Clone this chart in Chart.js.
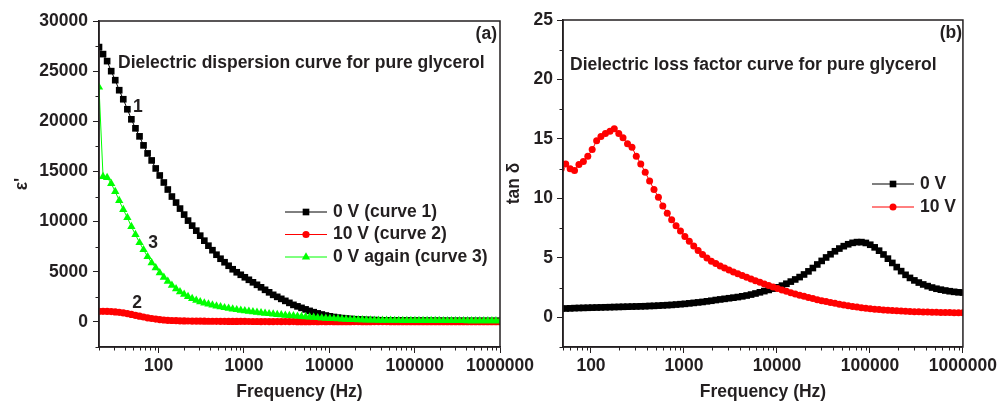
<!DOCTYPE html>
<html>
<head>
<meta charset="utf-8">
<title>Dielectric dispersion and loss of pure glycerol</title>
<script src="https://cdn.jsdelivr.net/npm/chart.js@4.4.1/dist/chart.umd.min.js"></script>
<style>
  html, body { margin: 0; padding: 0; background: #fff; }
  #wrap { position: relative; width: 1000px; height: 407px; overflow: hidden; }
  .panel { position: absolute; top: 0; height: 407px; }
  #left { left: 0; width: 545px; }
  #right { left: 500px; width: 500px; }
</style>
</head>
<body>
<div id="wrap">
  <div class="panel" id="right"><canvas id="loss-chart"></canvas></div>
  <div class="panel" id="left"><canvas id="dispersion-chart"></canvas></div>
</div>
<script>
// sweep frequencies (Hz), 100 log-spaced points from 20 Hz to 1 MHz
const freq = [
  20, 22.3, 24.9, 27.8, 31.0, 34.5, 38.5, 43.0, 47.9, 53.5,
  59.7, 66.5, 74.2, 82.8, 92.4, 103, 115, 128, 143, 160,
  178, 199, 221, 247, 276, 307, 343, 383, 427, 476,
  531, 592, 661, 737, 822, 917, 1023, 1141, 1273, 1420,
  1584, 1766, 1970, 2198, 2452, 2735, 3051, 3403, 3796, 4234,
  4723, 5269, 5877, 6556, 7313, 8158, 9100, 10151, 11323, 12631,
  14089, 15717, 17532, 19556, 21815, 24334, 27144, 30279, 33776, 37676,
  42028, 46882, 52296, 58335, 65073, 72587, 80969, 90322, 100750, 112390,
  125360, 139840, 155990, 174010, 194100, 216520, 241530, 269420, 300540, 335240,
  373970, 417150, 465320, 519060, 579000, 645870, 720470, 803670, 896480, 1000000
];

// dielectric constant eps'
const eps0V = [
  27400, 26700, 26000, 25000, 24100, 23100, 22200, 21200, 20200, 19300,
  18500, 17600, 16800, 16100, 15300, 14600, 13900, 13200, 12500, 11900,
  11300, 10700, 10100, 9600, 9100, 8600, 8100, 7600, 7150, 6700,
  6300, 5950, 5600, 5250, 4950, 4700, 4450, 4200, 3950, 3700,
  3450, 3200, 2950, 2700, 2500, 2300, 2100, 1900, 1700, 1550,
  1400, 1250, 1100, 970, 850, 740, 640, 560, 490, 430,
  380, 340, 300, 270, 245, 225, 205, 190, 180, 170,
  160, 155, 150, 145, 140, 135, 130, 128, 126, 124,
  122, 120, 118, 116, 114, 112, 110, 109, 108, 107,
  106, 105, 104, 103, 102, 101, 100, 100, 99, 98
];
const eps10V = [
  1050, 1060, 1050, 1030, 1000, 960, 900, 830, 750, 660,
  570, 490, 410, 340, 280, 230, 190, 160, 140, 120,
  110, 100, 92, 86, 80, 76, 72, 68, 65, 62,
  59, 56, 54, 52, 50, 48, 46, 44, 42, 40,
  38, 37, 36, 35, 34, 33, 32, 31, 30, 29,
  28, 27, 26, 25, 24, 23, 22, 21, 20, 20,
  20, 19, 19, 18, 18, 17, 17, 17, 16, 16,
  16, 16, 15, 15, 15, 15, 15, 15, 15, 15,
  15, 15, 15, 15, 15, 15, 15, 15, 15, 15,
  15, 15, 15, 15, 15, 15, 15, 15, 15, 15
];
const eps0Vagain = [
  23400, 14500, 14400, 13800, 13000, 12100, 11200, 10400, 9500, 8700,
  7900, 7200, 6500, 5900, 5400, 4900, 4450, 4050, 3650, 3300,
  3000, 2750, 2520, 2320, 2150, 2000, 1880, 1770, 1670, 1580,
  1500, 1420, 1350, 1280, 1220, 1160, 1100, 1050, 1000, 950,
  900, 860, 820, 780, 740, 700, 660, 630, 600, 570,
  540, 510, 480, 450, 420, 390, 360, 340, 320, 300,
  280, 260, 240, 225, 210, 200, 190, 180, 170, 165,
  160, 156, 152, 148, 145, 142, 139, 136, 134, 132,
  130, 128, 127, 126, 125, 124, 123, 122, 121, 120,
  120, 119, 119, 118, 118, 117, 117, 116, 116, 115
];

// loss factor tan delta, measured from the 9th sweep point (47.9 Hz) on
const lossStart = 8;
const tan0V = [
  0.72, 0.74, 0.75, 0.77, 0.78, 0.79, 0.80, 0.81, 0.82, 0.83,
  0.84, 0.85, 0.86, 0.87, 0.88, 0.89, 0.90, 0.91, 0.92, 0.93,
  0.95, 0.96, 0.98, 1.00, 1.02, 1.04, 1.07, 1.10, 1.13, 1.17,
  1.21, 1.25, 1.29, 1.34, 1.39, 1.45, 1.50, 1.55, 1.60, 1.65,
  1.70, 1.76, 1.83, 1.91, 2.00, 2.10, 2.20, 2.30, 2.41, 2.52,
  2.66, 2.82, 3.00, 3.18, 3.38, 3.60, 3.86, 4.14, 4.44, 4.74,
  5.03, 5.30, 5.55, 5.78, 5.98, 6.14, 6.26, 6.32, 6.32, 6.25,
  6.10, 5.88, 5.60, 5.28, 4.93, 4.57, 4.22, 3.88, 3.57, 3.31,
  3.10, 2.92, 2.76, 2.62, 2.50, 2.40, 2.32, 2.25, 2.19, 2.14,
  2.10, 2.08
];
const tan10V = [
  12.5, 12.9, 12.5, 12.35, 12.85, 13.1, 13.55, 14.1, 14.85, 15.2,
  15.45, 15.65, 15.85, 15.45, 15.1, 14.6, 14.3, 13.55, 12.9, 12.2,
  11.45, 10.75, 10.1, 9.35, 8.75, 8.2, 7.7, 7.25, 6.8, 6.4,
  6.0, 5.62, 5.28, 4.98, 4.72, 4.52, 4.32, 4.14, 3.97, 3.81,
  3.66, 3.51, 3.37, 3.22, 3.08, 2.94, 2.80, 2.67, 2.54, 2.42,
  2.30, 2.18, 2.07, 1.96, 1.86, 1.76, 1.66, 1.57, 1.48, 1.40,
  1.32, 1.24, 1.17, 1.10, 1.03, 0.97, 0.91, 0.86, 0.81, 0.76,
  0.72, 0.68, 0.65, 0.62, 0.59, 0.56, 0.54, 0.52, 0.50, 0.48,
  0.47, 0.46, 0.45, 0.44, 0.43, 0.42, 0.41, 0.40, 0.40, 0.39,
  0.39, 0.38
];

const freqTicks = [100, 1000, 10000, 100000, 1000000];
const epsTicks = [0, 5000, 10000, 15000, 20000, 25000, 30000];
const tanTicks = [0, 5, 10, 15, 20, 25];

const FONT = { family: '"Liberation Sans", Arial, sans-serif', size: 17.5, weight: 'bold' };
const INK = '#231f20';

function pairs(xs, ys, start) {
  return ys.map((v, i) => ({ x: xs[start + i], y: v }));
}

// 2..9 x 10^n between min and max
function logMinors(min, max) {
  const out = [];
  for (let d = 1; d <= max; d *= 10) {
    for (let m = 2; m <= 9; m++) {
      if (m * d >= min && m * d <= max) out.push(m * d);
    }
  }
  return out;
}

// half-way marks between the labelled ticks
function midMinors(min, max, step) {
  const out = [];
  for (let v = min; v <= max; v += step) out.push(v);
  return out;
}

// box, minor ticks, annotations and the line+symbol legend
function decor(cfg) {
  return {
    id: 'decor',
    afterDraw(chart) {
      const { ctx, chartArea: a, scales: { x, y } } = chart;
      ctx.save();
      ctx.strokeStyle = INK;
      ctx.lineWidth = 1;
      ctx.beginPath();
      cfg.minorX.forEach(v => {
        const px = Math.round(x.getPixelForValue(v)) + 0.5;
        ctx.moveTo(px, a.bottom);
        ctx.lineTo(px, a.bottom + 3.5);
      });
      cfg.minorY.forEach(v => {
        const py = Math.round(y.getPixelForValue(v)) + 0.5;
        ctx.moveTo(a.left, py);
        ctx.lineTo(a.left - 3.5, py);
      });
      ctx.stroke();

      ctx.lineWidth = 1.5;
      ctx.strokeRect(a.left, a.top, a.right - a.left, a.bottom - a.top);

      ctx.font = `bold ${FONT.size}px ${FONT.family}`;
      ctx.fillStyle = INK;
      ctx.textBaseline = 'middle';
      cfg.notes.forEach(n => {
        const px = n.f !== undefined ? x.getPixelForValue(n.f) : a.left + n.dx;
        const py = n.v !== undefined ? y.getPixelForValue(n.v) : a.top + n.dy;
        ctx.textAlign = n.align || 'left';
        ctx.fillText(n.text, px, py);
      });

      const lg = cfg.legend;
      chart.data.datasets.forEach((ds, i) => {
        const lx = a.left + lg.dx;
        const ly = a.top + lg.dy + i * lg.row;
        ctx.strokeStyle = ds.borderColor;
        ctx.lineWidth = 1;
        ctx.beginPath();
        ctx.moveTo(lx, ly);
        ctx.lineTo(lx + 42, ly);
        ctx.stroke();
        ctx.fillStyle = ds.pointBackgroundColor;
        Chart.helpers.drawPoint(ctx, { pointStyle: ds.pointStyle, radius: ds.pointRadius, rotation: 0, borderWidth: 0 }, lx + 21, ly);
        ctx.fillStyle = INK;
        ctx.textAlign = 'left';
        ctx.fillText(ds.label, lx + 48, ly);
      });
      ctx.restore();
    }
  };
}

function series(label, color, style, radius, points, order) {
  return {
    label: label,
    data: points,
    borderColor: color,
    backgroundColor: color,
    pointBackgroundColor: color,
    pointBorderColor: color,
    pointBorderWidth: 0,
    pointStyle: style,
    pointRadius: radius,
    borderWidth: 1,
    order: order,
    clip: 0
  };
}

function axisX(min, max) {
  return {
    type: 'logarithmic',
    min: min,
    max: max,
    afterBuildTicks: s => { s.ticks = freqTicks.map(v => ({ value: v })); },
    afterFit: s => { s.height = 60; },
    ticks: { callback: v => String(v), font: FONT, color: INK, padding: 3, maxRotation: 0, autoSkip: false },
    grid: { drawOnChartArea: false, tickLength: 6, color: INK },
    border: { color: INK, width: 1.5 },
    title: { display: true, text: 'Frequency (Hz)', font: FONT, color: INK, padding: { top: 0, bottom: 4 } }
  };
}

function axisY(min, max, ticks, width, title, titlePad, tickPad) {
  return {
    type: 'linear',
    min: min,
    max: max,
    afterBuildTicks: s => { s.ticks = ticks.map(v => ({ value: v })); },
    afterFit: s => { s.width = width; },
    ticks: { callback: v => String(v), font: FONT, color: INK, padding: tickPad },
    grid: { drawOnChartArea: false, tickLength: 6, color: INK },
    border: { color: INK, width: 1.5 },
    title: { display: true, text: title, font: FONT, color: INK, padding: { top: titlePad, bottom: 0 } }
  };
}

// (a) dielectric dispersion
new Chart(document.getElementById('dispersion-chart'), {
  type: 'line',
  data: {
    datasets: [
      series('0 V (curve 1)', '#000000', 'rect', 4.7, pairs(freq, eps0V, 0), 2),
      series('10 V (curve 2)', '#ff0000', 'circle', 3.6, pairs(freq, eps10V, 0), 1),
      series('0 V again (curve 3)', '#00ff00', 'triangle', 4.8, pairs(freq, eps0Vagain, 0), 0)
    ]
  },
  options: {
    responsive: true,
    maintainAspectRatio: false,
    animation: false,
    events: [],
    layout: { padding: { top: 21, right: 45, bottom: 0, left: 0 } },
    plugins: { legend: { display: false }, tooltip: { enabled: false } },
    scales: {
      x: axisX(20, 1000000),
      y: axisY(-2500, 30000, epsTicks, 99, "\u03b5'", 12, 5)
    }
  },
  plugins: [decor({
    minorX: logMinors(20, 1000000),
    minorY: midMinors(-2500, 30000, 5000),
    notes: [
      { text: '(a)', dx: 398, dy: 13, align: 'right' },
      { text: 'Dielectric dispersion curve for pure glycerol', dx: 19, dy: 42 },
      { text: '1', f: 57, v: 21400, align: 'center' },
      { text: '3', f: 86, v: 7900, align: 'center' },
      { text: '2', f: 56, v: 1900, align: 'center' }
    ],
    legend: { dx: 186, dy: 191, row: 22.5 }
  })]
});

// (b) dielectric loss factor
new Chart(document.getElementById('loss-chart'), {
  type: 'line',
  data: {
    datasets: [
      series('0 V', '#000000', 'rect', 4.7, pairs(freq, tan0V, lossStart), 1),
      series('10 V', '#ff0000', 'circle', 3.5, pairs(freq, tan10V, lossStart), 0)
    ]
  },
  options: {
    responsive: true,
    maintainAspectRatio: false,
    animation: false,
    events: [],
    layout: { padding: { top: 20, right: 35, bottom: 0, left: 0 } },
    plugins: { legend: { display: false }, tooltip: { enabled: false } },
    scales: {
      x: axisX(50, 1000000),
      y: axisY(-2.5, 25, tanTicks, 63, 'tan \u03b4', 4, 4)
    }
  },
  plugins: [decor({
    minorX: logMinors(50, 1000000),
    minorY: midMinors(-2.5, 25, 5),
    notes: [
      { text: '(b)', dx: 399, dy: 13, align: 'right' },
      { text: 'Dielectric loss factor curve for pure glycerol', dx: 7, dy: 45 }
    ],
    legend: { dx: 309, dy: 164, row: 23 }
  })]
});
</script>
</body>
</html>
